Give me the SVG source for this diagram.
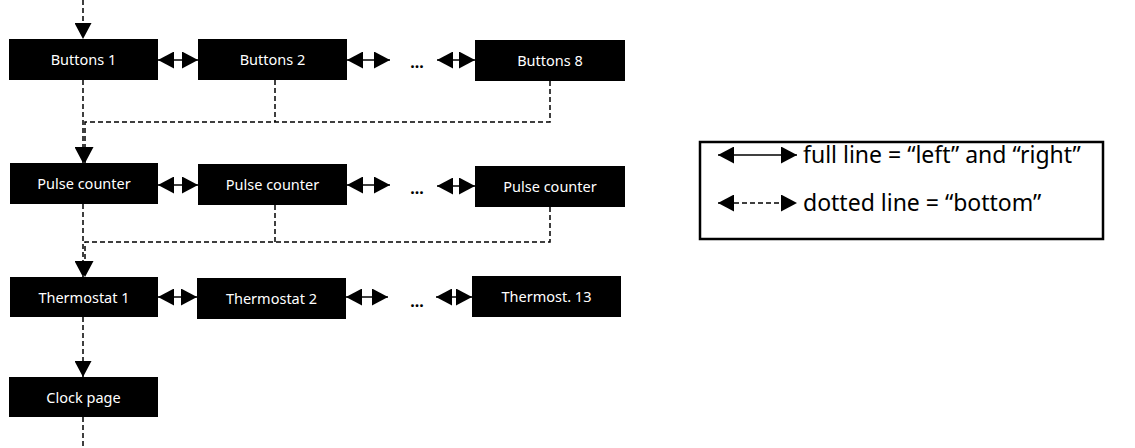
<svg xmlns="http://www.w3.org/2000/svg" width="1135" height="448" viewBox="0 0 1135 448">
<defs>
<marker id="ah" markerUnits="userSpaceOnUse" markerWidth="17" markerHeight="17" viewBox="0 0 17 17" refX="16" refY="8.5" orient="auto-start-reverse">
<path d="M0,0 L16,8.5 L0,17 z" fill="#000"/>
</marker>
<style>
.node rect{fill:#000;}
.node text{fill:#fff;font-family:"Noto Sans","Open Sans",sans-serif;font-size:14.5px;text-anchor:middle;}
.solid{stroke:#000;stroke-width:1.5;fill:none;}
.dash{stroke:#000;stroke-width:1.5;fill:none;stroke-dasharray:5,3;}
.dots{font-family:"Noto Sans",sans-serif;font-size:16px;font-weight:bold;fill:#000;text-anchor:middle;}
.leg{font-family:"Noto Sans","Open Sans",sans-serif;font-size:23px;fill:#000;}
</style>
</defs>
<g id="connectors">
<path class="dash" d="M83,0 V39" marker-end="url(#ah)"/>
<path class="dash" d="M83,80 V163" marker-end="url(#ah)"/>
<path class="dash" d="M275,80 V122"/>
<path class="dash" d="M550,81 V122 H85 V163" marker-end="url(#ah)"/>
<path class="dash" d="M83,204 V277" marker-end="url(#ah)"/>
<path class="dash" d="M275,205 V242"/>
<path class="dash" d="M550,207 V242 H85 V277" marker-end="url(#ah)"/>
<path class="dash" d="M83,317 V377" marker-end="url(#ah)"/>
<path class="dash" d="M83,417 V448"/>
<path class="solid" d="M158,60 H198" marker-start="url(#ah)" marker-end="url(#ah)"/>
<path class="solid" d="M347,60 H390" marker-start="url(#ah)" marker-end="url(#ah)"/>
<path class="solid" d="M437,60 H475" marker-start="url(#ah)" marker-end="url(#ah)"/>
<path class="solid" d="M158,185 H198" marker-start="url(#ah)" marker-end="url(#ah)"/>
<path class="solid" d="M347,185 H390" marker-start="url(#ah)" marker-end="url(#ah)"/>
<path class="solid" d="M437,186 H475" marker-start="url(#ah)" marker-end="url(#ah)"/>
<path class="solid" d="M158,297 H197" marker-start="url(#ah)" marker-end="url(#ah)"/>
<path class="solid" d="M346,297 H388" marker-start="url(#ah)" marker-end="url(#ah)"/>
<path class="solid" d="M436,297 H472" marker-start="url(#ah)" marker-end="url(#ah)"/>
</g>
<text class="dots" x="417" y="68">...</text>
<text class="dots" x="417" y="194">...</text>
<text class="dots" x="417" y="307">...</text>
<g id="buttons1" class="node"><rect x="9" y="39" width="149" height="41"/><text x="83.5" y="65">Buttons 1</text></g>
<g id="buttons2" class="node"><rect x="198" y="39" width="149" height="41"/><text x="272.5" y="65">Buttons 2</text></g>
<g id="buttons8" class="node"><rect x="475" y="40" width="150" height="41"/><text x="550" y="66">Buttons 8</text></g>
<g id="pulse1" class="node"><rect x="10" y="163" width="148" height="41"/><text x="84" y="189">Pulse counter</text></g>
<g id="pulse2" class="node"><rect x="198" y="164" width="149" height="41"/><text x="272.5" y="190">Pulse counter</text></g>
<g id="pulse3" class="node"><rect x="475" y="166" width="150" height="41"/><text x="550" y="192">Pulse counter</text></g>
<g id="thermo1" class="node"><rect x="10" y="277" width="148" height="40"/><text x="84" y="302.5">Thermostat 1</text></g>
<g id="thermo2" class="node"><rect x="197" y="278" width="149" height="41"/><text x="271.5" y="303.5">Thermostat 2</text></g>
<g id="thermo13" class="node"><rect x="472" y="276" width="149" height="41"/><text x="546.5" y="301.5">Thermost. 13</text></g>
<g id="clock" class="node"><rect x="9" y="377" width="149" height="40"/><text x="83.5" y="402.5">Clock page</text></g>
<g id="legend">
<rect x="700" y="142" width="403" height="97" fill="#fff" stroke="#000" stroke-width="2.5"/>
<path class="solid" d="M718,155 H797" marker-start="url(#ah)" marker-end="url(#ah)"/>
<path class="dash" d="M718,203 H797" stroke-dasharray="3,3" stroke-width="1.2" marker-start="url(#ah)" marker-end="url(#ah)"/>
<text class="leg" x="803" y="163">full line = “left” and “right”</text>
<text class="leg" x="803" y="211">dotted line = “bottom”</text>
</g>
</svg>
